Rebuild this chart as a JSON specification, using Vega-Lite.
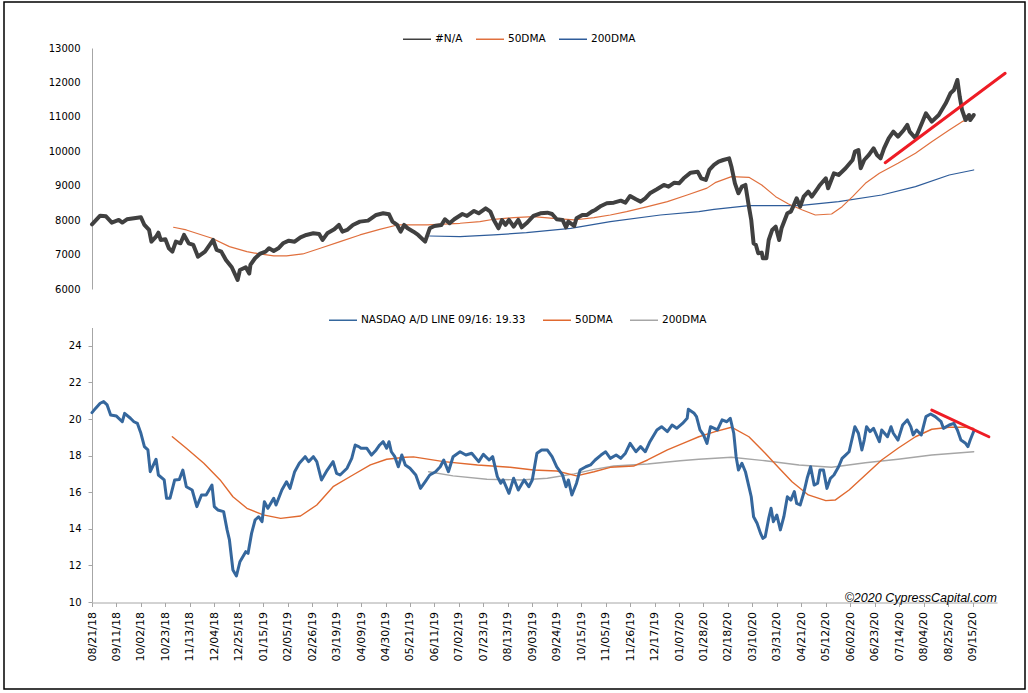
{
"$schema":"https://vega.github.io/schema/vega-lite/v6.json",
"width":1021,"height":687,
"autosize":{"type":"none"},
"padding":{"left":4,"top":2,"right":3,"bottom":4},
"background":"white",
"config":{
 "view":{"stroke":"#000000","strokeWidth":1.5},
 "font":"DejaVu Sans",
 "axis":{"grid":false,"domainColor":"#a6a6a6","tickColor":"#a6a6a6","labelColor":"#000000","labelFont":"DejaVu Sans","title":null,"labelOverlap":false},
 "axisX":{"labelOverlap":false,"labelFlush":false},
 "line":{"strokeJoin":"round","strokeCap":"round"}
},
"datasets":{
"price":[
{"d":"2018-08-21","v":7880},{"d":"2018-08-28","v":8130},{"d":"2018-09-02","v":8110},{"d":"2018-09-07","v":7927},{"d":"2018-09-13","v":8005},{"d":"2018-09-16","v":7930},{"d":"2018-09-20","v":8025},{"d":"2018-09-26","v":8054},{"d":"2018-10-02","v":8083},{"d":"2018-10-05","v":7860},{"d":"2018-10-09","v":7715},{"d":"2018-10-11","v":7375},{"d":"2018-10-15","v":7520},{"d":"2018-10-17","v":7637},{"d":"2018-10-19","v":7424},{"d":"2018-10-23","v":7444},{"d":"2018-10-26","v":7183},{"d":"2018-10-29","v":7085},{"d":"2018-11-01","v":7375},{"d":"2018-11-05","v":7328},{"d":"2018-11-08","v":7570},{"d":"2018-11-12","v":7328},{"d":"2018-11-16","v":7279},{"d":"2018-11-20","v":6940},{"d":"2018-11-26","v":7085},{"d":"2018-12-03","v":7424},{"d":"2018-12-06","v":7134},{"d":"2018-12-10","v":7085},{"d":"2018-12-14","v":6843},{"d":"2018-12-19","v":6631},{"d":"2018-12-24","v":6263},{"d":"2018-12-26","v":6553},{"d":"2018-12-31","v":6631},{"d":"2019-01-03","v":6447},{"d":"2019-01-04","v":6698},{"d":"2019-01-08","v":6893},{"d":"2019-01-12","v":7018},{"d":"2019-01-17","v":7085},{"d":"2019-01-20","v":7183},{"d":"2019-01-24","v":7105},{"d":"2019-01-28","v":7183},{"d":"2019-02-01","v":7328},{"d":"2019-02-06","v":7404},{"d":"2019-02-11","v":7375},{"d":"2019-02-16","v":7502},{"d":"2019-02-21","v":7570},{"d":"2019-02-27","v":7618},{"d":"2019-03-04","v":7599},{"d":"2019-03-07","v":7424},{"d":"2019-03-11","v":7618},{"d":"2019-03-17","v":7734},{"d":"2019-03-21","v":7860},{"d":"2019-03-24","v":7666},{"d":"2019-03-28","v":7715},{"d":"2019-04-02","v":7860},{"d":"2019-04-08","v":7957},{"d":"2019-04-15","v":7986},{"d":"2019-04-22","v":8150},{"d":"2019-04-28","v":8199},{"d":"2019-05-03","v":8170},{"d":"2019-05-06","v":7957},{"d":"2019-05-10","v":7860},{"d":"2019-05-13","v":7666},{"d":"2019-05-16","v":7860},{"d":"2019-05-19","v":7763},{"d":"2019-05-24","v":7666},{"d":"2019-05-28","v":7570},{"d":"2019-06-03","v":7375},{"d":"2019-06-07","v":7763},{"d":"2019-06-11","v":7831},{"d":"2019-06-17","v":7860},{"d":"2019-06-20","v":8025},{"d":"2019-06-24","v":7909},{"d":"2019-06-28","v":8025},{"d":"2019-07-05","v":8179},{"d":"2019-07-09","v":8121},{"d":"2019-07-15","v":8267},{"d":"2019-07-19","v":8199},{"d":"2019-07-25","v":8344},{"d":"2019-07-29","v":8247},{"d":"2019-08-01","v":8005},{"d":"2019-08-05","v":7763},{"d":"2019-08-08","v":8005},{"d":"2019-08-11","v":7860},{"d":"2019-08-14","v":8005},{"d":"2019-08-18","v":7811},{"d":"2019-08-22","v":8005},{"d":"2019-08-25","v":7792},{"d":"2019-08-29","v":7909},{"d":"2019-09-04","v":8121},{"d":"2019-09-10","v":8199},{"d":"2019-09-16","v":8218},{"d":"2019-09-20","v":8179},{"d":"2019-09-24","v":8025},{"d":"2019-09-29","v":8005},{"d":"2019-10-02","v":7792},{"d":"2019-10-04","v":7957},{"d":"2019-10-09","v":7831},{"d":"2019-10-11","v":8054},{"d":"2019-10-16","v":8150},{"d":"2019-10-20","v":8150},{"d":"2019-10-24","v":8247},{"d":"2019-10-27","v":8295},{"d":"2019-11-01","v":8412},{"d":"2019-11-06","v":8490},{"d":"2019-11-12","v":8508},{"d":"2019-11-18","v":8566},{"d":"2019-11-22","v":8508},{"d":"2019-11-26","v":8702},{"d":"2019-12-01","v":8605},{"d":"2019-12-05","v":8537},{"d":"2019-12-09","v":8634},{"d":"2019-12-13","v":8780},{"d":"2019-12-19","v":8896},{"d":"2019-12-25","v":9022},{"d":"2019-12-29","v":8973},{"d":"2020-01-03","v":9089},{"d":"2020-01-07","v":9070},{"d":"2020-01-11","v":9216},{"d":"2020-01-17","v":9379},{"d":"2020-01-23","v":9408},{"d":"2020-01-26","v":9216},{"d":"2020-01-30","v":9167},{"d":"2020-02-02","v":9457},{"d":"2020-02-06","v":9602},{"d":"2020-02-10","v":9698},{"d":"2020-02-14","v":9747},{"d":"2020-02-19","v":9796},{"d":"2020-02-21","v":9553},{"d":"2020-02-24","v":9070},{"d":"2020-02-27","v":8780},{"d":"2020-03-01","v":8973},{"d":"2020-03-04","v":9022},{"d":"2020-03-07","v":8392},{"d":"2020-03-09","v":8005},{"d":"2020-03-11","v":7328},{"d":"2020-03-13","v":7279},{"d":"2020-03-15","v":7038},{"d":"2020-03-18","v":7057},{"d":"2020-03-19","v":6893},{"d":"2020-03-22","v":6893},{"d":"2020-03-24","v":7424},{"d":"2020-03-27","v":7715},{"d":"2020-03-30","v":7811},{"d":"2020-04-02","v":7424},{"d":"2020-04-04","v":7763},{"d":"2020-04-09","v":8199},{"d":"2020-04-12","v":8247},{"d":"2020-04-14","v":8392},{"d":"2020-04-17","v":8634},{"d":"2020-04-20","v":8392},{"d":"2020-04-23","v":8682},{"d":"2020-04-27","v":8828},{"d":"2020-04-30","v":8682},{"d":"2020-05-05","v":8925},{"d":"2020-05-07","v":9022},{"d":"2020-05-12","v":9216},{"d":"2020-05-14","v":8925},{"d":"2020-05-19","v":9361},{"d":"2020-05-23","v":9312},{"d":"2020-05-29","v":9506},{"d":"2020-06-04","v":9747},{"d":"2020-06-06","v":9989},{"d":"2020-06-09","v":10038},{"d":"2020-06-11","v":9506},{"d":"2020-06-14","v":9747},{"d":"2020-06-18","v":9893},{"d":"2020-06-22","v":10087},{"d":"2020-06-25","v":9893},{"d":"2020-06-28","v":9796},{"d":"2020-07-01","v":10087},{"d":"2020-07-05","v":10377},{"d":"2020-07-09","v":10570},{"d":"2020-07-13","v":10426},{"d":"2020-07-18","v":10619},{"d":"2020-07-21","v":10764},{"d":"2020-07-23","v":10570},{"d":"2020-07-28","v":10377},{"d":"2020-07-31","v":10619},{"d":"2020-08-03","v":10860},{"d":"2020-08-06","v":11103},{"d":"2020-08-11","v":10860},{"d":"2020-08-17","v":11054},{"d":"2020-08-23","v":11394},{"d":"2020-08-27","v":11684},{"d":"2020-08-30","v":11780},{"d":"2020-09-02","v":12071},{"d":"2020-09-04","v":11586},{"d":"2020-09-06","v":11200},{"d":"2020-09-09","v":10909},{"d":"2020-09-12","v":11054},{"d":"2020-09-13","v":10909},{"d":"2020-09-16","v":11054}
],
"m50":[
{"d":"2018-10-30","v":7793},{"d":"2018-11-10","v":7715},{"d":"2018-12-02","v":7473},{"d":"2018-12-17","v":7230},{"d":"2019-01-01","v":7085},{"d":"2019-01-12","v":7018},{"d":"2019-01-24","v":6960},{"d":"2019-02-04","v":6960},{"d":"2019-02-18","v":7018},{"d":"2019-03-05","v":7183},{"d":"2019-03-22","v":7375},{"d":"2019-04-08","v":7570},{"d":"2019-04-25","v":7734},{"d":"2019-05-10","v":7860},{"d":"2019-06-05","v":7860},{"d":"2019-07-03","v":7909},{"d":"2019-07-20","v":7957},{"d":"2019-08-01","v":8025},{"d":"2019-08-18","v":8073},{"d":"2019-09-04","v":8102},{"d":"2019-09-21","v":8054},{"d":"2019-10-09","v":8005},{"d":"2019-10-26","v":8073},{"d":"2019-11-09","v":8150},{"d":"2019-11-23","v":8247},{"d":"2019-12-11","v":8392},{"d":"2019-12-28","v":8537},{"d":"2020-01-14","v":8731},{"d":"2020-01-31","v":8930},{"d":"2020-02-07","v":9089},{"d":"2020-02-21","v":9263},{"d":"2020-03-07","v":9244},{"d":"2020-03-18","v":9022},{"d":"2020-03-30","v":8682},{"d":"2020-04-10","v":8470},{"d":"2020-04-22","v":8295},{"d":"2020-05-03","v":8150},{"d":"2020-05-17","v":8179},{"d":"2020-05-26","v":8392},{"d":"2020-06-04","v":8682},{"d":"2020-06-15","v":9070},{"d":"2020-06-27","v":9361},{"d":"2020-07-13","v":9651},{"d":"2020-07-28","v":9942},{"d":"2020-08-11","v":10279},{"d":"2020-08-26","v":10619},{"d":"2020-09-06","v":10860},{"d":"2020-09-16","v":10987}
],
"m200":[
{"d":"2019-06-07","v":7540},{"d":"2019-07-03","v":7520},{"d":"2019-08-01","v":7570},{"d":"2019-08-29","v":7637},{"d":"2019-10-06","v":7763},{"d":"2019-11-09","v":7957},{"d":"2019-12-22","v":8150},{"d":"2020-01-24","v":8247},{"d":"2020-02-06","v":8315},{"d":"2020-03-07","v":8420},{"d":"2020-04-19","v":8421},{"d":"2020-05-23","v":8537},{"d":"2020-06-29","v":8731},{"d":"2020-07-28","v":8973},{"d":"2020-08-26","v":9312},{"d":"2020-09-16","v":9457}
],
"redTop":[{"d":"2020-07-02","v":9669},{"d":"2020-10-13","v":12265}],
"ad":[
{"d":"2018-08-21","v":20.35},{"d":"2018-08-24","v":20.58},{"d":"2018-08-28","v":20.86},{"d":"2018-08-31","v":20.95},{"d":"2018-09-03","v":20.77},{"d":"2018-09-06","v":20.22},{"d":"2018-09-11","v":20.16},{"d":"2018-09-16","v":19.85},{"d":"2018-09-18","v":20.31},{"d":"2018-09-23","v":20.04},{"d":"2018-09-26","v":19.85},{"d":"2018-09-29","v":19.76},{"d":"2018-10-02","v":19.22},{"d":"2018-10-05","v":18.49},{"d":"2018-10-08","v":18.31},{"d":"2018-10-10","v":17.12},{"d":"2018-10-15","v":17.8},{"d":"2018-10-17","v":16.94},{"d":"2018-10-22","v":16.67},{"d":"2018-10-24","v":15.67},{"d":"2018-10-27","v":15.67},{"d":"2018-10-31","v":16.67},{"d":"2018-11-04","v":16.7},{"d":"2018-11-07","v":17.21},{"d":"2018-11-10","v":16.3},{"d":"2018-11-15","v":16.12},{"d":"2018-11-19","v":15.21},{"d":"2018-11-23","v":15.85},{"d":"2018-11-27","v":15.85},{"d":"2018-12-02","v":16.39},{"d":"2018-12-04","v":15.21},{"d":"2018-12-07","v":15.03},{"d":"2018-12-12","v":14.94},{"d":"2018-12-15","v":13.94},{"d":"2018-12-17","v":13.39},{"d":"2018-12-20","v":11.75},{"d":"2018-12-23","v":11.42},{"d":"2018-12-26","v":12.2},{"d":"2018-12-31","v":12.75},{"d":"2019-01-02","v":12.66},{"d":"2019-01-05","v":13.75},{"d":"2019-01-08","v":14.48},{"d":"2019-01-11","v":14.66},{"d":"2019-01-14","v":14.39},{"d":"2019-01-16","v":15.48},{"d":"2019-01-19","v":15.12},{"d":"2019-01-24","v":15.67},{"d":"2019-01-26","v":15.3},{"d":"2019-01-31","v":16.12},{"d":"2019-02-04","v":16.57},{"d":"2019-02-07","v":16.21},{"d":"2019-02-11","v":17.12},{"d":"2019-02-15","v":17.58},{"d":"2019-02-20","v":17.94},{"d":"2019-02-23","v":17.67},{"d":"2019-02-27","v":17.94},{"d":"2019-03-02","v":17.67},{"d":"2019-03-06","v":16.67},{"d":"2019-03-11","v":17.21},{"d":"2019-03-16","v":17.67},{"d":"2019-03-19","v":17.03},{"d":"2019-03-22","v":16.94},{"d":"2019-03-28","v":17.31},{"d":"2019-04-01","v":17.85},{"d":"2019-04-04","v":18.58},{"d":"2019-04-07","v":18.49},{"d":"2019-04-09","v":18.4},{"d":"2019-04-14","v":18.4},{"d":"2019-04-18","v":18.03},{"d":"2019-04-22","v":18.31},{"d":"2019-04-25","v":18.58},{"d":"2019-04-28","v":18.76},{"d":"2019-05-01","v":18.4},{"d":"2019-05-03","v":18.76},{"d":"2019-05-05","v":18.21},{"d":"2019-05-08","v":17.94},{"d":"2019-05-11","v":17.39},{"d":"2019-05-14","v":18.03},{"d":"2019-05-17","v":17.49},{"d":"2019-05-21","v":17.31},{"d":"2019-05-26","v":16.94},{"d":"2019-05-30","v":16.21},{"d":"2019-06-03","v":16.57},{"d":"2019-06-07","v":16.94},{"d":"2019-06-12","v":17.12},{"d":"2019-06-16","v":17.39},{"d":"2019-06-19","v":17.76},{"d":"2019-06-23","v":17.12},{"d":"2019-06-27","v":17.94},{"d":"2019-07-03","v":18.21},{"d":"2019-07-08","v":18.03},{"d":"2019-07-13","v":18.13},{"d":"2019-07-19","v":17.67},{"d":"2019-07-23","v":18.07},{"d":"2019-07-28","v":17.76},{"d":"2019-07-31","v":17.94},{"d":"2019-08-04","v":16.85},{"d":"2019-08-07","v":16.49},{"d":"2019-08-09","v":16.67},{"d":"2019-08-14","v":15.94},{"d":"2019-08-18","v":16.76},{"d":"2019-08-22","v":16.12},{"d":"2019-08-27","v":16.67},{"d":"2019-08-31","v":16.3},{"d":"2019-09-03","v":16.67},{"d":"2019-09-07","v":18.13},{"d":"2019-09-11","v":18.31},{"d":"2019-09-16","v":18.3},{"d":"2019-09-20","v":17.94},{"d":"2019-09-24","v":17.39},{"d":"2019-09-29","v":16.94},{"d":"2019-10-02","v":16.3},{"d":"2019-10-04","v":16.67},{"d":"2019-10-07","v":15.85},{"d":"2019-10-11","v":16.49},{"d":"2019-10-14","v":17.21},{"d":"2019-10-19","v":17.39},{"d":"2019-10-23","v":17.49},{"d":"2019-10-27","v":17.76},{"d":"2019-11-01","v":18.03},{"d":"2019-11-05","v":18.21},{"d":"2019-11-09","v":17.85},{"d":"2019-11-14","v":18.03},{"d":"2019-11-18","v":17.85},{"d":"2019-11-22","v":18.13},{"d":"2019-11-26","v":18.67},{"d":"2019-12-01","v":18.21},{"d":"2019-12-05","v":18.49},{"d":"2019-12-09","v":18.21},{"d":"2019-12-13","v":18.76},{"d":"2019-12-19","v":19.4},{"d":"2019-12-23","v":19.58},{"d":"2019-12-28","v":19.31},{"d":"2020-01-01","v":19.67},{"d":"2020-01-05","v":19.49},{"d":"2020-01-10","v":19.76},{"d":"2020-01-14","v":20.04},{"d":"2020-01-15","v":20.53},{"d":"2020-01-20","v":20.31},{"d":"2020-01-22","v":20.13},{"d":"2020-01-25","v":19.4},{"d":"2020-01-28","v":19.13},{"d":"2020-01-31","v":18.67},{"d":"2020-02-03","v":19.58},{"d":"2020-02-09","v":19.4},{"d":"2020-02-13","v":19.95},{"d":"2020-02-17","v":19.85},{"d":"2020-02-20","v":20.04},{"d":"2020-02-23","v":19.22},{"d":"2020-02-25","v":17.94},{"d":"2020-02-27","v":17.21},{"d":"2020-03-01","v":17.58},{"d":"2020-03-04","v":17.12},{"d":"2020-03-07","v":16.3},{"d":"2020-03-09","v":15.75},{"d":"2020-03-11","v":14.66},{"d":"2020-03-14","v":14.3},{"d":"2020-03-17","v":13.75},{"d":"2020-03-19","v":13.48},{"d":"2020-03-21","v":13.57},{"d":"2020-03-24","v":14.57},{"d":"2020-03-26","v":15.12},{"d":"2020-03-28","v":14.39},{"d":"2020-03-31","v":14.75},{"d":"2020-04-03","v":13.94},{"d":"2020-04-06","v":14.66},{"d":"2020-04-09","v":15.75},{"d":"2020-04-12","v":15.57},{"d":"2020-04-15","v":16.03},{"d":"2020-04-17","v":15.39},{"d":"2020-04-20","v":15.3},{"d":"2020-04-23","v":15.94},{"d":"2020-04-26","v":16.76},{"d":"2020-04-29","v":17.39},{"d":"2020-05-02","v":16.39},{"d":"2020-05-05","v":16.49},{"d":"2020-05-07","v":17.21},{"d":"2020-05-10","v":17.21},{"d":"2020-05-13","v":16.21},{"d":"2020-05-16","v":16.76},{"d":"2020-05-19","v":16.94},{"d":"2020-05-23","v":17.39},{"d":"2020-05-26","v":17.85},{"d":"2020-05-29","v":18.03},{"d":"2020-06-01","v":18.21},{"d":"2020-06-04","v":19.03},{"d":"2020-06-06","v":19.58},{"d":"2020-06-09","v":19.22},{"d":"2020-06-12","v":18.31},{"d":"2020-06-14","v":18.85},{"d":"2020-06-16","v":19.58},{"d":"2020-06-19","v":19.31},{"d":"2020-06-22","v":19.49},{"d":"2020-06-27","v":18.76},{"d":"2020-06-29","v":19.4},{"d":"2020-07-04","v":19.03},{"d":"2020-07-07","v":19.58},{"d":"2020-07-09","v":19.22},{"d":"2020-07-13","v":18.85},{"d":"2020-07-17","v":19.67},{"d":"2020-07-21","v":19.95},{"d":"2020-07-24","v":19.58},{"d":"2020-07-26","v":19.13},{"d":"2020-07-29","v":19.4},{"d":"2020-08-02","v":19.13},{"d":"2020-08-06","v":20.13},{"d":"2020-08-10","v":20.27},{"d":"2020-08-14","v":20.13},{"d":"2020-08-19","v":19.85},{"d":"2020-08-21","v":19.49},{"d":"2020-08-26","v":19.67},{"d":"2020-08-30","v":19.76},{"d":"2020-09-02","v":19.4},{"d":"2020-09-05","v":18.85},{"d":"2020-09-09","v":18.67},{"d":"2020-09-11","v":18.49},{"d":"2020-09-13","v":18.85},{"d":"2020-09-16","v":19.33}
],
"b50":[
{"d":"2018-10-29","v":19.03},{"d":"2018-11-10","v":18.4},{"d":"2018-11-25","v":17.58},{"d":"2018-12-09","v":16.67},{"d":"2018-12-20","v":15.75},{"d":"2019-01-01","v":15.12},{"d":"2019-01-15","v":14.76},{"d":"2019-01-30","v":14.57},{"d":"2019-02-16","v":14.7},{"d":"2019-03-02","v":15.3},{"d":"2019-03-16","v":16.3},{"d":"2019-04-02","v":16.94},{"d":"2019-04-17","v":17.49},{"d":"2019-05-01","v":17.8},{"d":"2019-05-17","v":17.91},{"d":"2019-05-24","v":17.93},{"d":"2019-06-19","v":17.67},{"d":"2019-07-18","v":17.49},{"d":"2019-08-15","v":17.36},{"d":"2019-09-04","v":17.21},{"d":"2019-09-24","v":17.16},{"d":"2019-10-11","v":16.89},{"d":"2019-10-26","v":17.12},{"d":"2019-11-09","v":17.36},{"d":"2019-11-29","v":17.43},{"d":"2019-12-11","v":17.76},{"d":"2019-12-28","v":18.31},{"d":"2020-01-14","v":18.76},{"d":"2020-01-24","v":19.03},{"d":"2020-02-07","v":19.31},{"d":"2020-02-21","v":19.55},{"d":"2020-03-07","v":19.03},{"d":"2020-03-21","v":18.13},{"d":"2020-04-02","v":17.31},{"d":"2020-04-13","v":16.57},{"d":"2020-04-27","v":15.85},{"d":"2020-05-12","v":15.54},{"d":"2020-05-20","v":15.57},{"d":"2020-06-01","v":16.12},{"d":"2020-06-15","v":16.94},{"d":"2020-06-29","v":17.76},{"d":"2020-07-13","v":18.4},{"d":"2020-07-28","v":19.03},{"d":"2020-08-11","v":19.44},{"d":"2020-08-26","v":19.55},{"d":"2020-09-09","v":19.55},{"d":"2020-09-16","v":19.49}
],
"b200":[
{"d":"2019-06-06","v":17.12},{"d":"2019-06-27","v":16.89},{"d":"2019-07-26","v":16.71},{"d":"2019-08-24","v":16.67},{"d":"2019-09-16","v":16.76},{"d":"2019-10-09","v":17.0},{"d":"2019-10-26","v":17.25},{"d":"2019-11-12","v":17.43},{"d":"2019-12-11","v":17.54},{"d":"2020-01-08","v":17.72},{"d":"2020-01-24","v":17.8},{"d":"2020-02-21","v":17.91},{"d":"2020-03-21","v":17.72},{"d":"2020-04-19","v":17.49},{"d":"2020-05-17","v":17.36},{"d":"2020-06-15","v":17.61},{"d":"2020-07-13","v":17.8},{"d":"2020-08-11","v":18.03},{"d":"2020-09-16","v":18.21}
],
"redBot":[{"d":"2020-08-11","v":20.49},{"d":"2020-09-29","v":19.03}],
"credit":[{"d":"2020-10-06","v":10,"label":"©2020 CypressCapital.com"}]
},
"layer":[
{
"layer":[
{"data":{"name":"m200"},"mark":{"type":"line","strokeWidth":1.2},
 "encoding":{
  "x":{"field":"d","type":"temporal","scale":{"domain":[{"year":2018,"month":8,"date":21},{"year":2020,"month":10,"date":6}],"range":[88,993]},
   "axis":{"orient":"bottom","offset":-86.5,"format":"%m/%d/%y","labelAngle":-90,"labelAlign":"right","labelBaseline":"middle","labelFontSize":11,"tickSize":4,"tickCount":60,"labelPadding":5,"labelOverlap":false,"labelFlush":false,"labelBound":false,"labelSeparation":0,"title":null,
    "values":[{"year":2018,"month":8,"date":21},{"year":2018,"month":9,"date":11},{"year":2018,"month":10,"date":2},{"year":2018,"month":10,"date":23},{"year":2018,"month":11,"date":13},{"year":2018,"month":12,"date":4},{"year":2018,"month":12,"date":25},{"year":2019,"month":1,"date":15},{"year":2019,"month":2,"date":5},{"year":2019,"month":2,"date":26},{"year":2019,"month":3,"date":19},{"year":2019,"month":4,"date":9},{"year":2019,"month":4,"date":30},{"year":2019,"month":5,"date":21},{"year":2019,"month":6,"date":11},{"year":2019,"month":7,"date":2},{"year":2019,"month":7,"date":23},{"year":2019,"month":8,"date":13},{"year":2019,"month":9,"date":3},{"year":2019,"month":9,"date":24},{"year":2019,"month":10,"date":15},{"year":2019,"month":11,"date":5},{"year":2019,"month":11,"date":26},{"year":2019,"month":12,"date":17},{"year":2020,"month":1,"date":7},{"year":2020,"month":1,"date":28},{"year":2020,"month":2,"date":18},{"year":2020,"month":3,"date":10},{"year":2020,"month":3,"date":31},{"year":2020,"month":4,"date":21},{"year":2020,"month":5,"date":12},{"year":2020,"month":6,"date":2},{"year":2020,"month":6,"date":23},{"year":2020,"month":7,"date":14},{"year":2020,"month":8,"date":4},{"year":2020,"month":8,"date":25},{"year":2020,"month":9,"date":15}]}},
  "y":{"field":"v","type":"quantitative","scale":{"domain":[6000,13000],"range":[287,46],"nice":false,"zero":false},
   "axis":{"orient":"left","offset":-88,"values":[6000,7000,8000,9000,10000,11000,12000,13000],"format":"d","ticks":false,"labelPadding":12,"labelFontSize":10,"title":null}},
  "color":{"datum":"200DMA","scale":{"domain":["#N/A","50DMA","200DMA"],"range":["#404040","#e0703e","#2e5c9a"]},
   "legend":{"title":null,"orient":"none","legendX":398,"legendY":22,"direction":"horizontal","symbolType":"stroke","symbolSize":784,"symbolStrokeWidth":1.5,"labelFont":"DejaVu Sans","labelFontSize":10.5,"labelColor":"#000000","labelOffset":3,"columnPadding":12,"padding":0,
    "encode":{"symbols":{"update":{"strokeWidth":{"signal":"datum.index === 0 ? 5 : 1.5"}}}}}}
 }},
{"data":{"name":"m50"},"mark":{"type":"line","strokeWidth":1.2},
 "encoding":{"x":{"field":"d","type":"temporal"},"y":{"field":"v","type":"quantitative"},"color":{"datum":"50DMA"}}},
{"data":{"name":"price"},"mark":{"type":"line","strokeWidth":4},
 "encoding":{"x":{"field":"d","type":"temporal"},"y":{"field":"v","type":"quantitative"},"color":{"datum":"#N/A"}}},
{"data":{"name":"redTop"},"mark":{"type":"line","strokeWidth":3,"color":"#ee1c25"},
 "encoding":{"x":{"field":"d","type":"temporal"},"y":{"field":"v","type":"quantitative"}}}
]
},
{
"layer":[
{"data":{"name":"b200"},"mark":{"type":"line","strokeWidth":1.4},
 "encoding":{
  "x":{"field":"d","type":"temporal"},
  "y":{"field":"v","type":"quantitative","scale":{"domain":[10,25],"range":[600,325.5],"nice":false,"zero":false},
   "axis":{"orient":"left","offset":-88,"values":[10,12,14,16,18,20,22,24],"tickSize":4,"labelPadding":7,"labelFontSize":10,"title":null}},
  "color":{"datum":"200DMA","scale":{"domain":["NASDAQ A/D LINE 09/16: 19.33","50DMA","200DMA"],"range":["#35679d","#e0692f","#a6a6a6"]},
   "legend":{"title":null,"orient":"none","legendX":324,"legendY":303,"direction":"horizontal","symbolType":"stroke","symbolSize":784,"symbolStrokeWidth":1.5,"labelFont":"DejaVu Sans","labelFontSize":10.5,"labelColor":"#000000","labelOffset":3,"columnPadding":16,"padding":0,"labelLimit":400,
    "encode":{"symbols":{"update":{"strokeWidth":{"signal":"datum.index === 0 ? 4 : 1.5"}}}}}}
 }},
{"data":{"name":"b50"},"mark":{"type":"line","strokeWidth":1.4},
 "encoding":{"x":{"field":"d","type":"temporal"},"y":{"field":"v","type":"quantitative"},"color":{"datum":"50DMA"}}},
{"data":{"name":"ad"},"mark":{"type":"line","strokeWidth":3},
 "encoding":{"x":{"field":"d","type":"temporal"},"y":{"field":"v","type":"quantitative"},"color":{"datum":"NASDAQ A/D LINE 09/16: 19.33"}}},
{"data":{"name":"redBot"},"mark":{"type":"line","strokeWidth":3,"color":"#ee1c25"},
 "encoding":{"x":{"field":"d","type":"temporal"},"y":{"field":"v","type":"quantitative"}}},
{"data":{"name":"credit"},"mark":{"type":"text","font":"Liberation Sans","fontStyle":"italic","fontSize":12.5,"align":"right","baseline":"alphabetic","color":"#000000"},
 "encoding":{"x":{"field":"d","type":"temporal"},"y":{"field":"v","type":"quantitative"},"text":{"field":"label"}}}
]
}
],
"resolve":{"scale":{"y":"independent","color":"independent"},"axis":{"y":"independent"},"legend":{"color":"independent"}}
}
